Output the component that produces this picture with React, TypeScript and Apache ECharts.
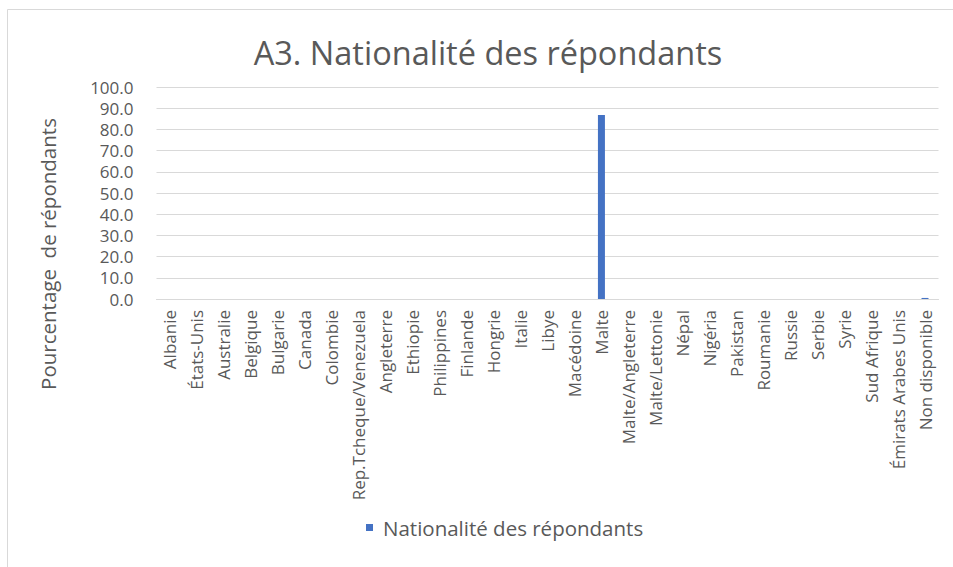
import React, { useEffect, useRef } from "react";
import * as echarts from "echarts";

const categories = [
  "Albanie", "États-Unis", "Australie", "Belgique", "Bulgarie", "Canada", "Colombie",
  "Rep.Tcheque/Venezuela", "Angleterre", "Ethiopie", "Philippines", "Finlande", "Hongrie",
  "Italie", "Libye", "Macédoine", "Malte", "Malte/Angleterre", "Malte/Lettonie", "Népal",
  "Nigéria", "Pakistan", "Roumanie", "Russie", "Serbie", "Syrie", "Sud Afrique",
  "Émirats Arabes Unis", "Non disponible",
];
const values = [
  0, 0, 0, 0, 0, 0, 0,
  0, 0, 0, 0, 0, 0,
  0, 0, 0, 86.8, 0, 0, 0,
  0, 0, 0, 0, 0, 0, 0,
  0, 0.5,
];
const seriesName = "Nationalité des répondants";
const titleText = "A3. Nationalité des répondants";
const yAxisName = "Pourcentage  de répondants";

const FONT = "'Open Sans', 'Noto Sans', sans-serif";
const TEXT = "#595959";
const GRID = "#d9d9d9";

export default function App() {
  const ref = useRef<HTMLDivElement>(null);
  useEffect(() => {
    if (!ref.current) return;
    const chart = echarts.init(ref.current, null, { renderer: "svg" });
    chart.setOption({
      animation: false,
      textStyle: { fontFamily: FONT },
      graphic: [
        {
          type: "rect",
          shape: { x: 7.5, y: 9.5, width: 1000, height: 1000 },
          style: { fill: "none", stroke: GRID, lineWidth: 1 },
          silent: true,
        },
        {
          type: "text",
          x: 488,
          y: 52,
          style: {
            text: titleText,
            fontSize: 32.5,
            fontFamily: FONT,
            fill: TEXT,
            align: "center",
            verticalAlign: "middle",
          },
        },
        {
          type: "text",
          x: 48,
          y: 254,
          rotation: Math.PI / 2,
          style: {
            text: yAxisName,
            fontSize: 20.5,
            fontFamily: FONT,
            fill: TEXT,
            align: "center",
            verticalAlign: "middle",
          },
        },
      ],
      legend: {
        data: [seriesName],
        left: 366,
        top: 517,
        icon: "rect",
        itemWidth: 7,
        itemHeight: 7,
        itemGap: 10,
        textStyle: { fontSize: 20.5, color: TEXT, fontFamily: FONT, padding: [0, 0, 0, 5] },
        padding: 0,
      },
      grid: { left: 156.5, right: 14.5, top: 87, bottom: 268, containLabel: false },
      xAxis: {
        type: "category",
        data: categories,
        axisLine: { lineStyle: { color: GRID, width: 1 } },
        axisTick: { show: false },
        axisLabel: {
          interval: 0,
          rotate: 90,
          fontSize: 17,
          color: TEXT,
          fontFamily: FONT,
          margin: 11,
        },
      },
      yAxis: {
        type: "value",
        min: 0,
        max: 100,
        interval: 10,
        axisLine: { show: false },
        axisTick: { show: false },
        splitLine: { lineStyle: { color: GRID, width: 1 } },
        axisLabel: {
          fontSize: 17,
          lineHeight: 17,
          color: TEXT,
          fontFamily: FONT,
          margin: 23,
          formatter: (v: number) => v.toFixed(1),
        },
      },
      series: [
        {
          name: seriesName,
          type: "bar",
          data: values,
          barWidth: 7,
          itemStyle: { color: "#4472C4" },
        },
      ],
    });
    return () => chart.dispose();
  }, []);
  return (
    <div
      ref={ref}
      style={{ position: "fixed", left: 0, top: 0, width: 953, height: 567, background: "#fff" }}
    />
  );
}
